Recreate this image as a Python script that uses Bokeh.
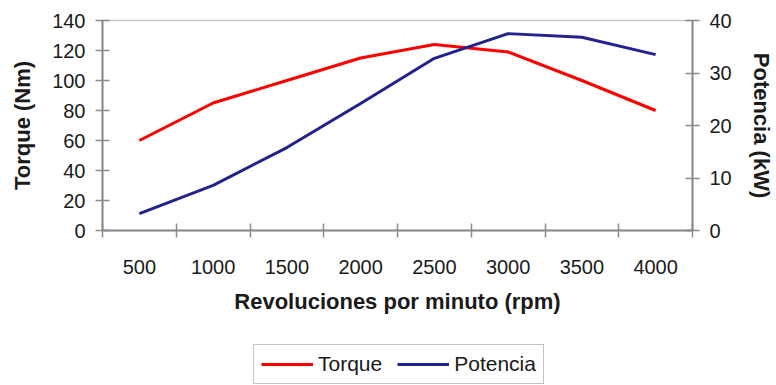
from bokeh.plotting import figure
from bokeh.layouts import column
from bokeh.models import (Range1d, LinearAxis, FixedTicker, Legend, LegendItem,
                          CustomJSTickFormatter)
from bokeh.embed import file_html
from bokeh.resources import INLINE

# ---- data ----
rpm_labels = ["500", "1000", "1500", "2000", "2500", "3000", "3500", "4000"]
torque_nm = [60, 85, 100, 115, 124, 119, 100, 80]
power_kw = [3.2, 8.6, 15.8, 24.2, 32.8, 37.5, 36.8, 33.5]
torque_ticks = [0, 20, 40, 60, 80, 100, 120, 140]
power_ticks = [0, 10, 20, 30, 40]

n = len(rpm_labels)
xc = [i + 0.5 for i in range(n)]
xb = [i for i in range(n + 1)]

FONT = "Liberation Sans"
AX = "#8a8a8a"
TXT = "#1a1a1a"
RED = "#ff0000"
NAVY = "#22228e"

p = figure(width=776, height=340, output_backend="svg", toolbar_location=None,
           x_range=Range1d(0, n), y_range=Range1d(torque_ticks[0], torque_ticks[-1]),
           x_axis_location=None, y_axis_location=None,
           min_border_left=102, min_border_right=76, min_border_top=20,
           min_border_bottom=110)
p.extra_y_ranges = {"power": Range1d(power_ticks[0], power_ticks[-1])}
p.outline_line_color = "#c8c8c8"
p.outline_line_width = 1.5
p.background_fill_color = "white"
p.border_fill_color = "white"
p.grid.visible = False


def style(ax, size="20px"):
    ax.axis_line_color = AX
    ax.axis_line_width = 2
    ax.major_tick_line_color = AX
    ax.major_tick_line_width = 1.5
    ax.minor_tick_line_color = AX
    ax.minor_tick_line_width = 1.5
    ax.major_label_text_font = FONT
    ax.major_label_text_font_size = size
    ax.major_label_text_color = TXT
    ax.axis_label_text_font = FONT
    ax.axis_label_text_font_size = "22px"
    ax.axis_label_text_font_style = "bold"
    ax.axis_label_text_color = TXT


# x axis: labels at category centres, tick marks between categories
xax = LinearAxis(ticker=FixedTicker(ticks=xc, minor_ticks=xb),
                 formatter=CustomJSTickFormatter(args=dict(labels=rpm_labels),
                                                 code="return labels[Math.floor(tick)];"),
                 axis_label="Revoluciones por minuto (rpm)")
style(xax)
xax.major_tick_in = 0
xax.major_tick_out = 0
xax.minor_tick_in = 7
xax.minor_tick_out = 7
xax.major_label_standoff = 22
xax.axis_label_standoff = 12
p.add_layout(xax, "below")

yl = LinearAxis(ticker=FixedTicker(ticks=torque_ticks), axis_label="Torque (Nm)")
style(yl)
yl.major_tick_in = 7
yl.major_tick_out = 7
yl.minor_tick_line_color = None
yl.major_label_standoff = 10
yl.axis_label_standoff = 14
p.add_layout(yl, "left")

yr = LinearAxis(y_range_name="power", ticker=FixedTicker(ticks=power_ticks),
                axis_label="Potencia (kW)")
style(yr)
yr.major_tick_in = 7
yr.major_tick_out = 7
yr.minor_tick_line_color = None
yr.major_label_standoff = 10
yr.axis_label_standoff = 14
try:
    yr.axis_label_orientation = "vertical"
except Exception:
    pass
p.add_layout(yr, "right")

p.line(xc, torque_nm, line_color=RED, line_width=3)
p.line(xc, power_kw, y_range_name="power", line_color=NAVY, line_width=3)

# legend strip below the chart (its own renderers lie outside its visible range)
lf = figure(width=776, height=45, output_backend="svg", toolbar_location=None,
            x_range=Range1d(0, n), y_range=Range1d(-2, -1),
            x_axis_location=None, y_axis_location=None, min_border=0)
lf.outline_line_color = None
lf.grid.visible = False
lr1 = lf.line(xc, torque_nm, line_color=RED, line_width=3)
lr2 = lf.line(xc, power_kw, line_color=NAVY, line_width=3)

legend = Legend(items=[LegendItem(label="Torque", renderers=[lr1]),
                       LegendItem(label="Potencia", renderers=[lr2])],
                orientation="horizontal", location=(151, 1))
legend.label_text_font = FONT
legend.label_text_font_size = "21px"
legend.label_text_color = TXT
legend.glyph_width = 52
legend.glyph_height = 20
legend.label_standoff = 5
legend.spacing = 15
legend.padding = 7
legend.margin = 0
legend.border_line_color = "#8a8a8a"
legend.border_line_width = 1.5
legend.background_fill_color = "white"
lf.add_layout(legend, "center")

layout = column(p, lf, spacing=0)
open("out.html", "w").write(file_html(layout, INLINE))
